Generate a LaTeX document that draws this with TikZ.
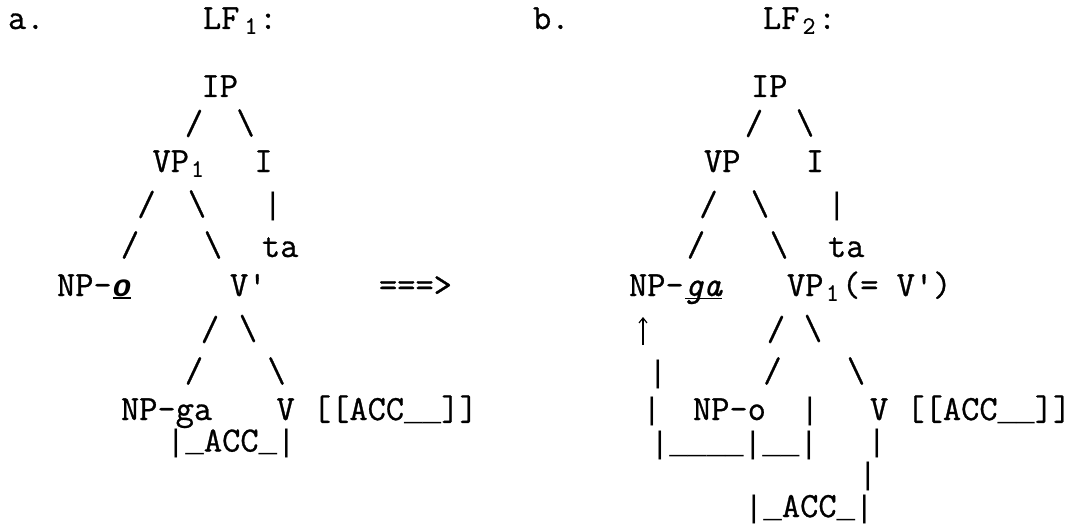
\documentclass[tikz,border=0pt]{standalone}
\usepackage{fontspec}
\usetikzlibrary{arrows.meta}
\setmonofont{Latin Modern Mono}[FakeBold=0.8]
\newfontfamily\libmono{Liberation Mono}
\newcommand\myvb{{\libmono\fontsize{31}{31}\selectfont|}}
\newcommand\myus{{\libmono\fontsize{31}{31}\selectfont\_}}
\tikzset{
  tt/.style={font=\ttfamily\fontsize{35.4}{35.4}\selectfont, inner sep=0pt, outer sep=0pt},
  word/.style={tt, anchor=base west},
  chr/.style={tt, anchor=base},
  glyph/.style={tt, anchor=center},
  bar/.style={glyph, font=\libmono\fontsize{31}{31}\selectfont},
  sub/.style={font=\ttfamily\fontsize{25}{25}\selectfont, inner sep=0pt, outer sep=0pt, anchor=center},
  uline/.style={line width=1.4pt},
  uparrow/.style={line width=1.2pt, -{Straight Barb[length=5pt,width=8pt]}}
}
\begin{document}
\begin{tikzpicture}[x=1pt,y=-1pt]
\useasboundingbox (0,0) rectangle (1071,524);
% ---------- headers
\node[word] (a) at (8,29) {a.};
\node[word] (lfA) at (203,29) {LF};
\node[sub] (lfAs) at (251,26) {1};
\node[chr] (lfAc) at (268,29) {:};
\node[word] (b) at (533,29) {b.};
\node[word] (lfB) at (763,29) {LF};
\node[sub] (lfBs) at (809,26) {2};
\node[chr] (lfBc) at (827,29) {:};
% ---------- tree a
\node[word] (ipA) at (201.5,97) {IP};
\node[glyph] (sA1) at (194,123.5) {/};
\node[glyph] (bA1) at (245.5,123) {\textbackslash};
\node[word] (vpA) at (152.5,172) {VP};
\node[sub] (vpAs) at (197.5,169) {1};
\node[chr] (iA) at (263.5,172) {I};
\node[glyph] (sA2) at (146.5,204.5) {/};
\node[glyph] (bA2) at (197,204) {\textbackslash};
\node[bar] (pA2) at (273,206.5) {|};
\node[glyph] (sA3) at (130,245) {/};
\node[glyph] (bA3) at (213,245) {\textbackslash};
\node[word] (taA) at (262,257) {ta};
\node[word] (npA) at (57,296) {NP-};
\node[word, font=\libmono\fontsize{31}{31}\selectfont\bfseries\itshape] (oA) at (112.8,296) {o};
\draw[uline] ([yshift=-2pt]oA.base west) -- ([yshift=-2pt]oA.base east);
\node[word] (vbarA) at (230,296) {V\symbol{39}};
\node[word] (arrow) at (379,296) {===>};
\node[glyph] (sA4) at (210,329.5) {/};
\node[glyph] (bA4) at (248,328.5) {\textbackslash};
\node[glyph] (sA5) at (194,371) {/};
\node[glyph] (bA5) at (276.5,371) {\textbackslash};
\node[word] (npgaA) at (121,420) {NP-ga};
\node[word] (vA) at (276.5,420) {V [[ACC\myus\myus]]};
\node[word] (accA) at (166.7,451.5) {\myvb\myus ACC\myus\myvb};
% ---------- tree b
\node[word] (ipB) at (751,97) {IP};
\node[glyph] (sB1) at (754,123.5) {/};
\node[glyph] (bB1) at (805,123) {\textbackslash};
\node[word] (vpB) at (704,172) {VP};
\node[chr] (iB) at (815,172) {I};
\node[glyph] (sB2) at (708.5,204.5) {/};
\node[glyph] (bB2) at (760,204) {\textbackslash};
\node[bar] (pB2) at (837,206.5) {|};
\node[glyph] (sB3) at (696,245) {/};
\node[glyph] (bB3) at (779,245) {\textbackslash};
\node[word] (taB) at (828,257) {ta};
\node[word] (npB) at (629,296) {NP-};
\node[word] (gaB) at (684.8,296) {\itshape ga};
\draw[uline] ([yshift=-2.5pt]gaB.base west) -- ([yshift=-2.5pt]gaB.base east);
\node[word] (vp1B) at (787,296) {VP};
\node[sub] (vp1Bs) at (832.5,293) {1};
\node[word] (eqB) at (842,296) {(= V\symbol{39})};
\coordinate (upS) at (643,345);
\coordinate (upE) at (643,317);
\draw[uparrow] (upS) -- (upE);
\node[glyph] (sB4) at (776,329.5) {/};
\node[glyph] (bB4) at (813,328.5) {\textbackslash};
\node[bar] (pB5) at (658,374) {|};
\node[glyph] (sB5) at (772.5,371) {/};
\node[glyph] (bB5) at (856,371) {\textbackslash};
\node[bar] (pB6) at (652,411) {|};
\node[word] (npoB) at (693,420) {NP-o};
\node[bar] (qB6) at (810,411) {|};
\node[word] (vB) at (870,420) {V [[ACC\myus\myus]]};
\node[word] (lineB) at (650.7,453) {\myvb\myus\myus\myus\myus\myvb\myus\myus\myvb};
\node[bar] (pB7) at (877,443.5) {|};
\node[bar] (pB8) at (868,476) {|};
\node[word] (accB) at (744.7,517) {\myvb\myus ACC\myus\myvb};
\end{tikzpicture}
\end{document}
